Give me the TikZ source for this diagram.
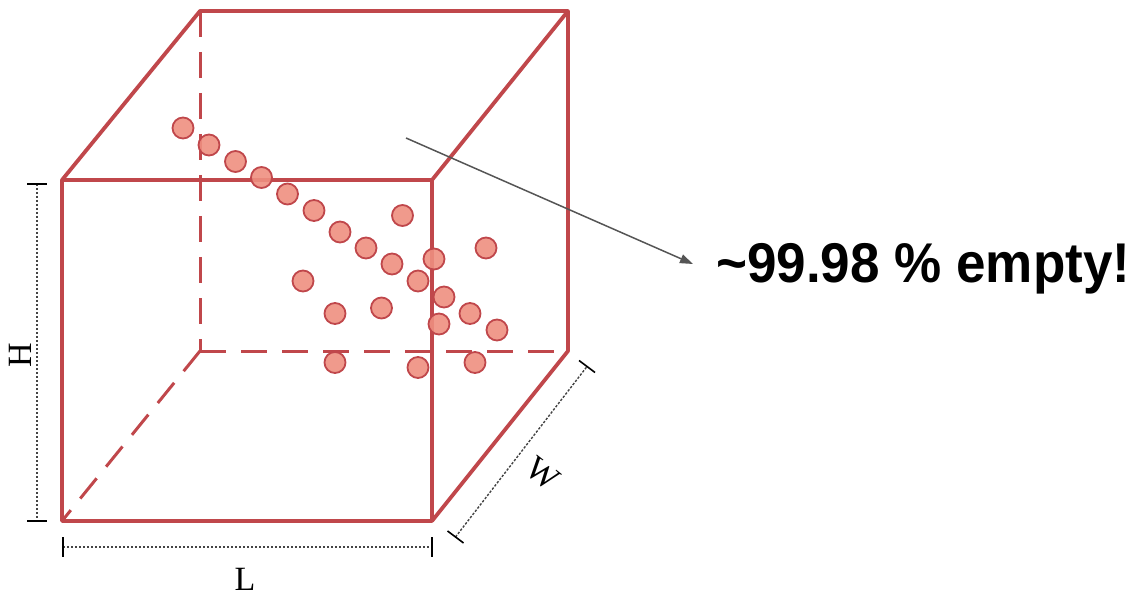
\documentclass[tikz,border=0pt]{standalone}
\usepackage{fontspec}
\setmainfont{Liberation Serif}
\newfontfamily\labelsans{Liberation Sans}
\usetikzlibrary{arrows.meta}
\definecolor{edgered}{HTML}{C0474B}
\definecolor{dotfill}{HTML}{EE8F80}
\definecolor{dimgray}{HTML}{444444}
\definecolor{arrowgray}{HTML}{555555}
\tikzset{
  edge/.style={draw=edgered, line width=3.8pt, line cap=round, line join=round},
  hidden/.style={draw=edgered, line width=3pt, dash pattern=on 26pt off 15pt},
  dot/.style={circle, draw=edgered, line width=1.8pt, fill=dotfill, fill opacity=0.9, draw opacity=1, minimum size=21pt, inner sep=0pt},
  dimline/.style={draw=dimgray, line width=1.4pt, dash pattern=on 2.4pt off 1.6pt},
  dimtick/.style={draw=black, line width=1.6pt},
  dimlabel/.style={font=\fontsize{34}{36}\selectfont, inner sep=0pt},
}
\begin{document}
\begin{tikzpicture}[x=1pt, y=-1pt]
\useasboundingbox (0,0) rectangle (1138,596);
% cube corners
\coordinate (F1) at (62,180);
\coordinate (F2) at (432,180);
\coordinate (F3) at (432,521);
\coordinate (F4) at (62,521);
\coordinate (B1) at (200,11);
\coordinate (B2) at (568,11);
\coordinate (B3) at (568,351);
\coordinate (B4) at (200,351);
% hidden edges
\draw[hidden] (B1) -- (B4);
\draw[hidden] (B4) -- (B3);
\draw[hidden] (B4) -- (F4);
% visible edges
\draw[edge] (F1) -- (F2) -- (F3) -- (F4) -- cycle;
\draw[edge] (F1) -- (B1) -- (B2) -- (B3) -- (F3);
\draw[edge] (F2) -- (B2);
% dots
\node[dot] (d1) at (183,128) {};
\node[dot] (d2) at (209,145) {};
\node[dot] (d3) at (235.5,161.5) {};
\node[dot] (d4) at (261.5,177.5) {};
\node[dot] (d5) at (287.5,194) {};
\node[dot] (d6) at (314,210.5) {};
\node[dot] (d7) at (340,232) {};
\node[dot] (d8) at (366,248) {};
\node[dot] (d9) at (392,264) {};
\node[dot] (d10) at (418,281) {};
\node[dot] (d11) at (402.5,215.5) {};
\node[dot] (d12) at (434,259) {};
\node[dot] (d13) at (486,248) {};
\node[dot] (d14) at (303,281) {};
\node[dot] (d15) at (335,313.5) {};
\node[dot] (d16) at (381.5,308) {};
\node[dot] (d17) at (444,297) {};
\node[dot] (d18) at (470,313.5) {};
\node[dot] (d19) at (497,330) {};
\node[dot] (d20) at (439,324) {};
\node[dot] (d21) at (335,362.5) {};
\node[dot] (d22) at (418,367.5) {};
\node[dot] (d23) at (475,362.5) {};
% H dimension
\coordinate (H1) at (37,184);
\coordinate (H2) at (37,521);
\draw[dimline] (H1) -- (H2);
\draw[dimtick] (27,184) -- (47,184);
\draw[dimtick] (27,521) -- (47,521);
\node[dimlabel, rotate=90] (Hl) at (20,355) {H};
% L dimension
\coordinate (L1) at (63,547);
\coordinate (L2) at (432,547);
\draw[dimline] (L1) -- (L2);
\draw[dimtick] (63,537) -- (63,557);
\draw[dimtick] (432,537) -- (432,557);
\node[dimlabel] (Ll) at (245,579) {L};
% W dimension
\coordinate (W1) at (455.5,537);
\coordinate (W2) at (587,366.5);
\draw[dimline] (W1) -- (W2);
\draw[dimtick] (447.5,531) -- (463.5,543);
\draw[dimtick] (579,360.5) -- (595,372.5);
\node[dimlabel, rotate=-38] (Wl) at (543,474) {W};
% annotation
\node[anchor=base west, inner sep=0pt] (t) at (716,283)
  {\scalebox{0.947}[1]{\labelsans\bfseries\fontsize{56}{62}\selectfont \char"007E 99.98 \% empty!}};
\coordinate (as) at (406,138);
\coordinate (ae) at (693,264);
\draw[arrowgray, line width=1.5pt, -{Triangle[length=13pt, width=9pt]}] (as) -- (ae);
\end{tikzpicture}
\end{document}
